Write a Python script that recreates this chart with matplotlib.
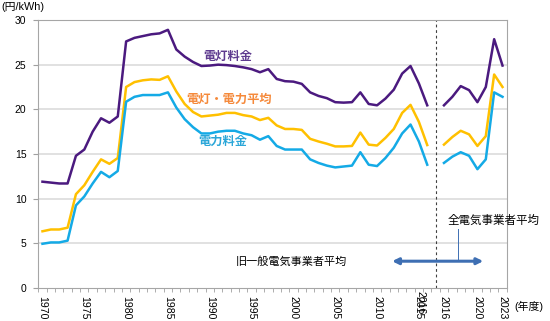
import matplotlib
matplotlib.use("Agg")
import matplotlib.pyplot as plt
from matplotlib.transforms import blended_transform_factory
import numpy as np

plt.rcParams['font.family'] = ['Liberation Sans', 'Noto Sans CJK JP', 'DejaVu Sans']

# old general electric utilities average, fiscal 1970-2016
years_old = list(range(1970, 2017))
lighting_old = [11.9, 11.8, 11.7, 11.7, 14.8, 15.5, 17.5, 19.0, 18.5, 19.2,
                27.6, 28.0, 28.2, 28.4, 28.5, 28.9, 26.7, 25.9, 25.3, 24.85,
                24.9, 25.0, 24.95, 24.85, 24.7, 24.5, 24.15, 24.5, 23.4, 23.15,
                23.1, 22.85, 21.9, 21.5, 21.25, 20.8, 20.75, 20.8, 21.9, 20.6,
                20.45, 21.2, 22.2, 24.0, 24.85, 22.9, 20.45]
average_old = [6.35, 6.55, 6.55, 6.75, 10.5, 11.5, 13.0, 14.4, 13.9, 14.55,
               22.5, 23.05, 23.25, 23.35, 23.3, 23.7, 22.0, 20.6, 19.7, 19.2,
               19.3, 19.4, 19.6, 19.6, 19.35, 19.2, 18.8, 19.05, 18.2, 17.8,
               17.8, 17.7, 16.7, 16.4, 16.15, 15.85, 15.85, 15.9, 17.4, 16.05,
               15.95, 16.8, 17.8, 19.6, 20.5, 18.6, 16.0]
power_old = [4.95, 5.1, 5.1, 5.3, 9.25, 10.25, 11.7, 13.0, 12.4, 13.1,
             20.85, 21.4, 21.6, 21.6, 21.6, 21.9, 20.2, 18.9, 18.0, 17.3,
             17.3, 17.5, 17.6, 17.6, 17.3, 17.1, 16.6, 17.0, 15.9, 15.5,
             15.5, 15.5, 14.4, 14.0, 13.7, 13.5, 13.6, 13.7, 15.2, 13.8,
             13.65, 14.55, 15.7, 17.3, 18.3, 16.4, 13.8]

# all electric utilities average, fiscal 2016-2023
years_new = list(range(2016, 2024))
lighting_new = [20.45, 21.4, 22.6, 22.15, 20.8, 22.5, 27.85, 24.9]
average_new = [16.05, 16.9, 17.6, 17.2, 15.9, 17.0, 23.9, 22.5]
power_new = [14.0, 14.7, 15.2, 14.8, 13.3, 14.4, 21.9, 21.4]

old_labels = ["1970", "1975", "1980", "1985", "1990", "1995", "2000", "2005", "2010", "2015"]
new_labels = ["2016", "2020", "2023"]

c_light = "#4b1a7f"
c_avg = "#ffc000"
c_power = "#14aae6"

# category positions: old series, one empty slot, then new series
x_old = np.arange(len(years_old))
x_gap = len(years_old)
x_new = np.arange(len(years_new)) + x_gap + 1

fig = plt.figure(figsize=(5.5, 3.21), dpi=100)
ax = fig.add_axes([38.3 / 550, 1 - 288 / 321, (506.7 - 38.3) / 550, 268 / 321])

for yv in [5, 10, 15, 20, 25, 30]:
    ax.axhline(yv, color="#d9d9d9", lw=1.1, zorder=0)

ax.plot(x_old, lighting_old, color=c_light, lw=1.8, zorder=3)
ax.plot(x_old, average_old, color=c_avg, lw=1.8, zorder=3)
ax.plot(x_old, power_old, color=c_power, lw=1.8, zorder=3)
ax.plot(x_new, lighting_new, color=c_light, lw=1.8, zorder=3)
ax.plot(x_new, average_new, color=c_avg, lw=1.8, zorder=3)
ax.plot(x_new, power_new, color=c_power, lw=1.8, zorder=3)

ax.axvline(x_gap, color="#404040", lw=0.8, ls=(0, (2.5, 2.5)), zorder=2)

ax.set_xlim(-0.45, x_new[-1] + 0.5)
ax.set_ylim(0, 30)
ax.set_yticks([0, 5, 10, 15, 20, 25, 30])
ax.tick_params(axis="y", length=3.5, width=0.8, color="#a0a0a0", labelsize=7.5, pad=5)

xfont = ['Liberation Sans Narrow', 'Liberation Sans']
tick_pos = [years_old.index(int(s)) for s in old_labels] + \
           [x_new[years_new.index(int(s))] for s in new_labels]
ax.set_xticks(tick_pos)
ax.set_xticklabels(old_labels + new_labels, rotation=-90, fontsize=7.6, family=xfont)
ax.set_xticks(np.arange(-0.5, x_new[-1] + 1, 1), minor=True)
ax.tick_params(axis="x", which="major", length=0, pad=6)
ax.tick_params(axis="x", which="minor", length=3, width=0.6, color="#a0a0a0")

# old 2016 label overlapping the 2015 one, as in the source figure
trans = blended_transform_factory(ax.transData, ax.transAxes)
ax.text(x_old[-1] - 0.8, -0.012, str(years_old[-1]), transform=trans, rotation=-90,
        fontsize=7.6, family=xfont, ha="center", va="top")

for s in ax.spines.values():
    s.set_color("#a6a6a6")
    s.set_linewidth(0.8)

ax.text(22.2, 25.9, "電灯料金", color="#5e3b8f", fontsize=8.8, fontweight="bold",
        ha="center", va="center")
ax.text(22.3, 21.05, "電灯・電力平均", color="#f5893a", fontsize=8.8, fontweight="bold",
        ha="center", va="center")
ax.text(21.5, 16.4, "電力料金", color="#2aa6d8", fontsize=8.8, fontweight="bold",
        ha="center", va="center")

ax.annotate("", xy=(41.8, 3.0), xytext=(52.7, 3.0),
            arrowprops=dict(arrowstyle="<|-|>", color="#3e6fb3", lw=2.2,
                            mutation_scale=9, shrinkA=0, shrinkB=0))
ax.plot([49.7, 49.7], [3.1, 6.6], color="#3e6fb3", lw=0.7)
ax.text(53.9, 7.5, "全電気事業者平均", fontsize=8.3, ha="center", va="center", clip_on=False)
ax.text(29.7, 3.0, "旧一般電気事業者平均", fontsize=8.0, ha="center", va="center")

fig.text(1 / 550, 1 - 7 / 321, "(円/kWh)", fontsize=7.8, ha="left", va="center")
fig.text(529 / 550, 1 - 306 / 321, "(年度)", fontsize=7.8, ha="center", va="center")

fig.savefig("out.png", dpi=100)
